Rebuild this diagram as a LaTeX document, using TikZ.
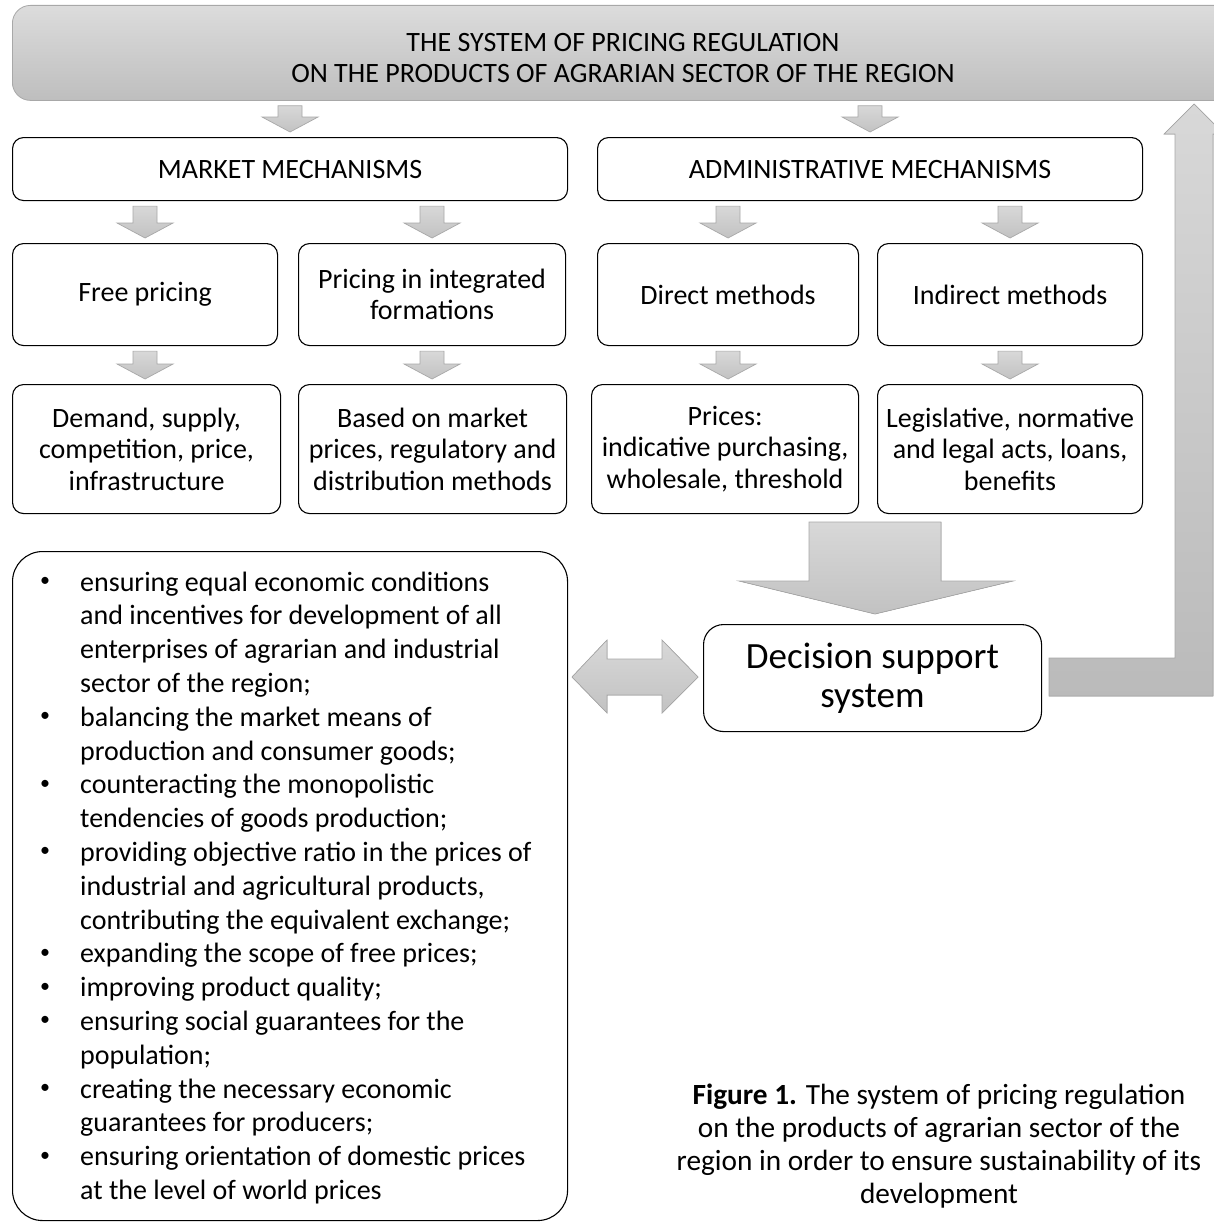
\documentclass[tikz,border=0pt]{standalone}
\usepackage{fontspec}
\setmainfont{Carlito}
\usetikzlibrary{calc}
\definecolor{arrfillA}{HTML}{D8D8D8}
\definecolor{arrfillB}{HTML}{C2C2C2}
\definecolor{arrline}{HTML}{A8A8A8}
\definecolor{banA}{HTML}{DCDCDC}
\definecolor{banB}{HTML}{BEBEBE}
\tikzset{
  txt/.style={font=\fontsize{28}{31.5}\selectfont},
  captxt/.style={font=\fontsize{28}{31}\selectfont},
  box/.style={draw=black, line width=1.1pt, rounded corners=11pt, fill=white,
    align=center, anchor=north west, inner sep=0pt, txt},
  blk/.style={draw=arrline, line width=0.7pt, top color=arrfillA, bottom color=arrfillB},
  banner/.style={draw=arrline, line width=0.8pt, rounded corners=18pt,
    top color=banA, bottom color=banB, anchor=north west, inner sep=0pt},
}
\newcommand\blockdown[3]{% #1 upper node, #2 lower node, #3 node giving x
  \path[blk] let \p1=(#3.center), \p2=(#1.south), \p3=(#2.north) in
    (\x1-12pt,\y2-5pt) -- (\x1+12pt,\y2-5pt) -- (\x1+12pt,\y3+20pt) -- (\x1+28pt,\y3+20pt)
    -- (\x1,\y3+5pt) -- (\x1-28pt,\y3+20pt) -- (\x1-12pt,\y3+20pt) -- cycle;}
\begin{document}
\begin{tikzpicture}[x=1pt,y=-1pt]
\useasboundingbox (0,0) rectangle (1214,1231);
\clip (0,0) rectangle (1214,1231);
\fill[white] (0,0) rectangle (1214,1231);

% title banner
\node[banner, minimum width=1222pt, minimum height=95pt] (title) at (12,5) {};
\node[align=center, inner sep=0pt, captxt] (titletext) at (623,58)
  {THE SYSTEM OF PRICING REGULATION\\ON THE PRODUCTS OF AGRARIAN SECTOR OF THE REGION};

% row 1
\node[box, captxt, minimum width=555pt, minimum height=63pt] (market) at (12,137) {MARKET MECHANISMS};
\node[box, captxt, minimum width=545pt, minimum height=63pt] (admin) at (597,137) {ADMINISTRATIVE MECHANISMS};

% row 2
\node[box, minimum width=265pt, minimum height=102pt] (free) at (12,243) {Free pricing};
\node[box, minimum width=267pt, minimum height=102pt] (integ) at (298,243) {Pricing in integrated\\formations};
\node[box, minimum width=261pt, minimum height=102pt] (direct) at (597,243) {Direct methods};
\node[box, minimum width=265pt, minimum height=102pt] (indirect) at (877,243) {Indirect methods};

% row 3
\node[box, minimum width=268pt, minimum height=129pt] (demand) at (12,384) {Demand, supply,\\competition, price,\\infrastructure};
\node[box, minimum width=268pt, minimum height=129pt] (based) at (298,384) {Based on market\\prices, regulatory and\\distribution methods};
\node[box, minimum width=267pt, minimum height=129pt] (prices) at (591,384) {Prices:\\indicative purchasing,\\wholesale, threshold};
\node[box, minimum width=265pt, minimum height=129pt] (legis) at (877,384) {Legislative, normative\\and legal acts, loans,\\benefits};

% small block arrows
\blockdown{title}{market}{market}
\blockdown{title}{admin}{admin}
\blockdown{market}{free}{free}
\blockdown{market}{integ}{integ}
\blockdown{admin}{direct}{direct}
\blockdown{admin}{indirect}{indirect}
\blockdown{free}{demand}{free}
\blockdown{integ}{based}{integ}
\blockdown{direct}{prices}{direct}
\blockdown{indirect}{legis}{indirect}

% decision support system
\node[box, rounded corners=20pt, minimum width=338pt, minimum height=107pt,
  font=\fontsize{37}{39}\selectfont] (dss) at (703,624) {Decision support\\system};

% goals box
\node[box, rounded corners=30pt, minimum width=555pt, minimum height=669pt] (goals) at (12,551) {};

% big arrow down into DSS
\filldraw[blk] (809,522) -- (941,522) -- (941,581) -- (1013,581) -- (875,614)
  -- (739,581) -- (809,581) -- cycle;

% double arrow between goals and DSS
\filldraw[blk] (572,677) -- (607,640) -- (607,659) -- (662,659) -- (662,640) -- (698,677)
  -- (662,713) -- (662,695) -- (607,695) -- (607,713) -- cycle;

% return arrow to title
\filldraw[draw=arrline, line width=0.7pt, top color=arrfillA, bottom color=arrfillB!96!black]
  (1049,658) -- (1175,658) -- (1175,134) -- (1164,134) -- (1194,104) -- (1224,134)
  -- (1213,134) -- (1213,696) -- (1049,696) -- cycle;

% bullet lines
\foreach \t [count=\i] in {
  {ensuring equal economic conditions},
  {and incentives for development of all},
  {enterprises of agrarian and industrial},
  {sector of the region;},
  {balancing the market means of},
  {production and consumer goods;},
  {counteracting the monopolistic},
  {tendencies of goods production;},
  {providing objective ratio in the prices of},
  {industrial and agricultural products,},
  {contributing the equivalent exchange;},
  {expanding the scope of free prices;},
  {improving product quality;},
  {ensuring social guarantees for the},
  {population;},
  {creating the necessary economic},
  {guarantees for producers;},
  {ensuring orientation of domestic prices},
  {at the level of world prices}}
  \node[anchor=base west, inner sep=0pt, txt] (line\i) at (80,{591+(\i-1)*33.8}) {\t};
\foreach \i in {1,5,7,9,12,13,14,16,18}
  \node[anchor=center, inner sep=0pt, font=\fontsize{20}{20}\selectfont] (bul\i) at (45,{582+(\i-1)*33.8}) {•};

% caption
\node[align=center, inner sep=0pt, font=\fontsize{29.3}{33}\selectfont] (caption) at (939,1146)
  {\textbf{Figure 1.} The system of pricing regulation\\on the products of agrarian sector of the\\region in order to ensure sustainability of its\\development};
\end{tikzpicture}
\end{document}
